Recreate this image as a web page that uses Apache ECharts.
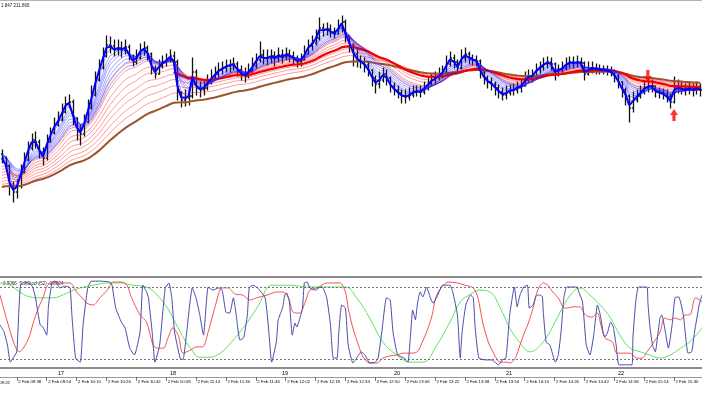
<!DOCTYPE html>
<html><head><meta charset="utf-8">
<script src="https://cdn.jsdelivr.net/npm/echarts@6/dist/echarts.min.js"></script>
<style>html,body{margin:0;padding:0;background:#fff;overflow:hidden}#c{width:702px;height:395px}</style>
</head><body><div id="c"></div>
<script>
// ---- price bars (2-minute bars from 09:30), prices ----
const closes = [210.42,210.34,210.14,210.08,210.14,210.28,210.40,210.52,210.60,210.58,
210.48,210.42,210.58,210.67,210.75,210.80,210.88,210.96,210.98,210.82,
210.70,210.66,210.78,210.92,211.05,211.20,211.32,211.44,211.55,211.54,
211.50,211.52,211.50,211.53,211.44,211.38,211.42,211.50,211.52,211.46,
211.32,211.26,211.34,211.38,211.40,211.44,211.38,211.08,211.00,211.02,
211.04,211.28,211.12,211.10,211.12,211.18,211.22,211.26,211.30,211.32,
211.34,211.35,211.36,211.30,211.26,211.24,211.28,211.34,211.40,211.45,
211.42,211.42,211.44,211.42,211.45,211.43,211.46,211.44,211.42,211.38,
211.40,211.46,211.54,211.57,211.62,211.72,211.70,211.71,211.68,211.66,
211.72,211.78,211.64,211.55,211.46,211.40,211.38,211.35,211.30,211.22,
211.16,211.20,211.26,211.22,211.14,211.10,211.07,211.04,211.03,211.05,
211.08,211.09,211.08,211.12,211.16,211.20,211.22,211.25,211.28,211.36,
211.42,211.38,211.32,211.42,211.46,211.42,211.40,211.39,211.28,211.22,
211.18,211.16,211.12,211.08,211.05,211.07,211.10,211.10,211.13,211.14,
211.20,211.24,211.24,211.30,211.33,211.36,211.38,211.36,211.26,211.30,
211.32,211.36,211.38,211.37,211.38,211.37,211.26,211.30,211.32,211.31,
211.30,211.30,211.29,211.28,211.24,211.18,211.10,211.04,210.92,211.00,
211.04,211.08,211.12,211.14,211.14,211.08,211.07,211.06,211.03,210.98,
211.12,211.13,211.11,211.10,211.12,211.10,211.12,211.10];
const highs = [210.50,210.43,210.35,210.18,210.20,210.35,210.47,210.58,210.66,210.68,
210.60,210.52,210.65,210.72,210.82,210.88,210.96,211.03,211.05,211.00,
210.82,210.75,210.85,211.00,211.14,211.28,211.40,211.52,211.64,211.63,
211.60,211.60,211.58,211.60,211.55,211.45,211.50,211.56,211.58,211.54,
211.47,211.34,211.40,211.44,211.46,211.50,211.48,211.40,211.08,211.10,
211.12,211.42,211.30,211.18,211.20,211.25,211.30,211.33,211.37,211.38,
211.40,211.40,211.42,211.38,211.34,211.32,211.36,211.42,211.46,211.58,
211.50,211.50,211.50,211.48,211.52,211.50,211.52,211.50,211.48,211.44,
211.46,211.54,211.60,211.64,211.70,211.82,211.76,211.77,211.75,211.72,
211.80,211.84,211.80,211.64,211.56,211.50,211.44,211.42,211.38,211.30,
211.24,211.28,211.32,211.30,211.23,211.17,211.14,211.10,211.10,211.12,
211.14,211.14,211.14,211.18,211.22,211.26,211.28,211.32,211.34,211.44,
211.48,211.45,211.40,211.50,211.52,211.48,211.45,211.44,211.40,211.28,
211.24,211.22,211.18,211.15,211.12,211.14,211.15,211.16,211.18,211.20,
211.28,211.30,211.30,211.36,211.38,211.42,211.43,211.42,211.37,211.35,
211.38,211.42,211.43,211.43,211.44,211.42,211.38,211.38,211.38,211.36,
211.35,211.34,211.34,211.33,211.30,211.26,211.18,211.12,211.05,211.08,
211.10,211.14,211.18,211.22,211.20,211.14,211.12,211.11,211.10,211.06,
211.23,211.20,211.18,211.16,211.18,211.16,211.18,211.16];
const lows = [210.37,210.30,210.05,209.98,210.02,210.12,210.27,210.39,210.50,210.52,
210.42,210.35,210.40,210.58,210.66,210.74,210.79,210.87,210.92,210.75,
210.60,210.55,210.64,210.77,210.91,211.04,211.19,211.31,211.43,211.47,
211.44,211.45,211.43,211.46,211.40,211.34,211.36,211.41,211.45,211.40,
211.26,211.22,211.26,211.32,211.34,211.38,211.30,211.00,210.93,210.94,
210.95,211.02,211.05,211.03,211.05,211.10,211.16,211.20,211.23,211.26,
211.28,211.28,211.30,211.24,211.20,211.18,211.22,211.28,211.32,211.38,
211.36,211.35,211.37,211.34,211.38,211.37,211.40,211.38,211.36,211.33,
211.34,211.40,211.46,211.50,211.55,211.60,211.64,211.65,211.63,211.62,
211.66,211.68,211.58,211.48,211.34,211.33,211.32,211.28,211.24,211.14,
211.07,211.12,211.18,211.15,211.08,211.05,211.02,210.97,210.97,211.00,
211.03,211.04,211.03,211.06,211.10,211.14,211.16,211.20,211.22,211.28,
211.34,211.32,211.27,211.31,211.38,211.36,211.35,211.34,211.22,211.16,
211.12,211.10,211.05,211.02,211.00,211.01,211.05,211.05,211.07,211.08,
211.14,211.18,211.18,211.24,211.27,211.30,211.32,211.30,211.20,211.24,
211.26,211.30,211.32,211.32,211.33,211.32,211.20,211.25,211.27,211.26,
211.26,211.26,211.25,211.24,211.18,211.12,211.03,210.95,210.78,210.88,
210.98,211.02,211.06,211.08,211.08,211.03,211.02,211.01,210.98,210.92,
210.97,211.07,211.06,211.05,211.06,211.04,211.06,211.04];
const firstOpen = 210.46; // each later bar opens at the previous close

// ---- moving-average ribbons (EMA periods in bars) and their values where they start ----
const fastBluePeriod = 1.5, fastBlueSeed = 210.42;
const blueFanPeriods = [2.5, 4, 5, 6, 7.5, 9, 10.5, 12.5];
const blueFanSeeds = [210.44, 210.45, 210.46, 210.47, 210.47, 210.47, 210.46, 210.45];
const redFanPeriods = [11, 14, 18, 22, 27, 32, 38, 45];
const redFanSeeds = [210.32, 210.29, 210.26, 210.23, 210.20, 210.17, 210.14, 210.12];
// the thick red average is only drawn over the most recent bars, starting at bar 46
const thickRedPeriod = 28, thickRedFirstBar = 46, thickRedStart = 211.28;
const brownPeriod = 56, brownSeed = 210.12;

// ---- signal arrows [bar index, price] ----
const sellArrows = [[173, 211.24]];
const buyArrows = [[180, 210.85]];

// ---- oscillator panel: [minutes after 09:30, value] ----
const oscMain = [[-1,-0.04],[1,-0.18],[3,-0.49],[4.5,-0.87],[6,-0.78],[8,-0.64],[9,0.18],[10,0.84],[12,0.91],[15,0.87],[16.5,0.8],[18,0.56],[20.5,-0.04],[22,-0.09],[24,-0.27],[25,0.4],[27,0.91],[29,0.93],[31,0.78],[34,0.82],[36.5,0.78],[37.5,0.18],[39.5,-0.78],[42,-0.87],[43.5,-0.04],[46,0.78],[48,0.93],[52.5,0.93],[58,0.91],[59,0.84],[61,0.33],[64,0.02],[66,-0.11],[68.5,-0.56],[71,-0.71],[74,-0.2],[75.5,0.84],[77.5,0.69],[78.5,0.56],[80.5,-0.2],[82,-0.87],[84.5,-0.49],[87.5,0.78],[89.5,0.89],[91,0.56],[92.5,-0.2],[95.5,-0.78],[97,-0.82],[99,-0.2],[102,0.78],[104,0.56],[106,0.18],[108,-0.27],[110.5,0.8],[113,0.73],[116,0.78],[118,0.73],[120,0.24],[122,0.22],[124,0.56],[125.5,0.18],[127.5,-0.38],[129.5,-0.33],[131.5,0.18],[132.5,0.78],[134.5,0.84],[137,0.78],[141,0.56],[143,-0.2],[144.5,-0.87],[147,-0.42],[148,0.07],[149.5,0.24],[150.5,0.36],[151.5,0.62],[152.5,0.67],[154,0.47],[155.5,-0.27],[157,0],[158,-0.09],[159,0.02],[161,0.33],[162,0.89],[163.5,0.91],[165,0.78],[168,0.73],[170.5,0.8],[172,0.78],[174,0.56],[176,-0.04],[177.5,-0.78],[179.5,-0.78],[180.5,-0.2],[182,0.4],[184,0.33],[185.5,-0.49],[188,-0.89],[190,-0.78],[192.5,-0.64],[194.5,-0.71],[197,-0.89],[200,-0.87],[201.5,-0.78],[203.5,-0.2],[206,0.56],[208,0.51],[209.5,-0.2],[212,-0.71],[215.5,-0.78],[217.5,-0.87],[219,-0.2],[220,0.29],[221.5,0.07],[222.5,0.4],[224,0.69],[225.5,0.58],[227.5,0.8],[229.5,0.56],[231,0.44],[233.5,0.62],[236,0.84],[240,0.84],[241.5,0.69],[244,0.18],[245.5,-0.78],[246.5,-0.2],[248.5,0.4],[251,0.62],[252.5,0.56],[253.5,-0.11],[255.5,-0.78],[259,-0.82],[262.5,-0.82],[266,-0.93],[268,-0.82],[270,-0.78],[272,0.18],[274.5,0.8],[276,0.36],[277.5,0.62],[279.5,0.8],[281.5,0.84],[282.5,0.33],[284.5,0.4],[286.5,0.62],[288.5,0.62],[289.5,0.58],[290,0.24],[291.5,-0.42],[293.5,-0.49],[296.5,-0.87],[298,-0.71],[299.5,-0.2],[301,0.56],[302.5,0.8],[305.5,0.8],[308,0.8],[309,0.69],[311,0.47],[313,-0.49],[315,-0.71],[317,-0.27],[319,0.4],[320.5,0.18],[322,-0.2],[323,-0.31],[324.5,-0.2],[326,0.02],[327.5,-0.09],[329,-0.49],[330.5,-0.93],[334,-0.93],[337.5,-0.93],[338,-0.33],[339.5,0.47],[341,0.8],[345.5,0.8],[346,0.47],[347,-0.04],[348.5,-0.49],[350,-0.64],[351.5,-0.2],[352.5,0.11],[353.5,0.18],[355,-0.11],[357,-0.56],[359,-0.04],[360.5,0.56],[362.5,0.58],[365,0.18],[367.5,-0.67],[369.5,-0.64],[371,-0.2],[373.5,0.4],[375,0.62]];
const oscSignal = [[-1,0.62],[1.5,0.24],[5.5,-0.33],[8,-0.6],[9.5,-0.64],[12.5,-0.49],[15,-0.27],[16.5,-0.04],[19.5,0.33],[22,0.56],[24.5,0.84],[27.5,0.89],[36.5,0.89],[38,0.84],[40,0.69],[43,0.56],[45.5,0.44],[49,0.4],[52.5,0.56],[56.5,0.73],[59.5,0.91],[64.5,0.91],[67,0.84],[69.5,0.56],[74,0.18],[77.5,0.02],[81,-0.49],[83.5,-0.56],[86.5,-0.56],[89,-0.33],[91.5,-0.11],[94.5,-0.27],[97,-0.67],[101,-0.6],[104.5,-0.53],[107.5,-0.53],[110.5,-0.2],[114,0.33],[118,0.78],[121,0.78],[125,0.64],[129,0.62],[133,0.51],[136.5,0.56],[142,0.62],[147.5,0.69],[150.5,0.69],[153.5,0.56],[156,0.24],[159.5,0.22],[162.5,0.47],[165,0.73],[169,0.78],[174,0.89],[181,0.89],[184,0.69],[185.5,0.33],[188,-0.11],[191,-0.49],[193.5,-0.76],[197,-0.89],[201,-0.89],[204,-0.78],[208,-0.73],[211.5,-0.71],[215,-0.67],[218.5,-0.67],[222.5,-0.64],[225,-0.44],[227.5,-0.2],[230.5,0.18],[232,0.51],[233.5,0.67],[236.5,0.84],[239,0.91],[244,0.89],[248,0.84],[252.5,0.78],[255,0.56],[257.5,0.02],[260.5,-0.42],[263,-0.64],[267,-0.87],[270.5,-0.87],[272,-0.89],[275,-0.78],[277.5,-0.49],[280,-0.2],[282,0],[284.5,0.33],[287,0.73],[290,0.89],[292.5,0.84],[295,0.69],[298,0.56],[300.5,0.36],[302.5,0.33],[306,0.36],[309.5,0.36],[312.5,0.18],[316,0.13],[319,0.22],[320.5,0.02],[323,-0.33],[327,-0.42],[329.5,-0.67],[336.5,-0.67],[340,-0.78],[343,-0.78],[345.5,-0.64],[349,-0.44],[352.5,-0.2],[355,0.11],[358,0.07],[360.5,0.11],[363.5,0.07],[366,0.18],[368.5,0.18],[371.5,0.56],[375,0.47]];
const oscSlow = [[-1,0.89],[4.5,0.84],[9.5,0.69],[15,0.58],[20.5,0.56],[27.5,0.56],[35,0.67],[42,0.78],[49,0.84],[56.5,0.89],[63.5,0.89],[70,0.84],[77.5,0.8],[84.5,0.56],[90,0.24],[95.5,-0.2],[101,-0.56],[106,-0.76],[111.5,-0.76],[117,-0.67],[122,-0.47],[127.5,-0.2],[133,0.11],[138.5,0.47],[142,0.78],[145,0.84],[154.5,0.84],[163.5,0.8],[174,0.8],[184,0.8],[190,0.56],[197,0.11],[204,-0.42],[211.5,-0.71],[218.5,-0.87],[225.5,-0.87],[233,-0.49],[240,0.02],[245.5,0.47],[251,0.64],[256,0.73],[261.5,0.69],[267,0.33],[272,-0.11],[277.5,-0.44],[283,-0.64],[288.5,-0.49],[293.5,-0.2],[299,0.24],[304.5,0.62],[309.5,0.78],[315,0.62],[320.5,0.4],[326,0.11],[331,-0.27],[336.5,-0.56],[342,-0.64],[347,-0.71],[352.5,-0.78],[358,-0.71],[363.5,-0.56],[368.5,-0.42],[375,-0.11]];
const oscLevels = [0.8, -0.8];

// ---- tick labels ----
const hourMarks = {'10:00':'17','11:00':'18','12:00':'19','13:00':'20','14:00':'21','15:00':'22'};
const timeTicks = ['09:38','09:54','10:10','10:26','10:42','10:58','11:14','11:30','11:46','12:02','12:18','12:34','12:50','13:06','13:22','13:38','13:54','14:10','14:26','14:42','14:58','15:14','15:30'];
const datePrefix = '2 Feb ';
const priceText = '1.847 211.866';
const oscText = '0.9066  SoftStoch(52) -0.8904';

// ---- build ----
const firstBarMinute = 9 * 60 + 30, barStep = 2;
const barTimes = closes.map((_, i) => {
  const m = firstBarMinute + i * barStep;
  return String(Math.floor(m / 60)).padStart(2, '0') + ':' + String(m % 60).padStart(2, '0');
});
const ohlc = closes.map((c, i) => [i, i ? closes[i - 1] : firstOpen, highs[i], lows[i], c]);
function ema(src, period, seed) {
  const a = 2 / (period + 1); let e = seed;
  return src.map(v => { e = e + a * (v - e); return +e.toFixed(4); });
}
function emaFrom(src, period, first, startValue) {
  const a = 2 / (period + 1); let e = startValue;
  return src.map((v, i) => {
    if (i < first) return null;
    if (i > first) e = e + a * (v - e);
    return +e.toFixed(4);
  });
}
const FONT = 'Liberation Sans';
const series = [];
series.push({
  type: 'custom', xAxisIndex: 0, yAxisIndex: 0, z: 2, clip: true,
  encode: { x: 0, y: [1, 2, 3, 4] }, data: ohlc,
  renderItem(params, api) {
    const i = api.value(0);
    const pO = api.coord([i, api.value(1)]), pH = api.coord([i, api.value(2)]);
    const pL = api.coord([i, api.value(3)]), pC = api.coord([i, api.value(4)]);
    const x = Math.round(pH[0]) + 0.5;
    const st = { stroke: '#111', lineWidth: 1.3 };
    return { type: 'group', children: [
      { type: 'line', shape: { x1: x, y1: pH[1] - 0.5, x2: x, y2: pL[1] + 0.5 }, style: st },
      { type: 'line', shape: { x1: x - 1.6, y1: pO[1], x2: x, y2: pO[1] }, style: st },
      { type: 'line', shape: { x1: x, y1: pC[1], x2: x + 1.6, y2: pC[1] }, style: st }
    ] };
  }
});
redFanPeriods.forEach((p, k) => series.push({
  type: 'line', xAxisIndex: 0, yAxisIndex: 0, z: 3, symbol: 'none', silent: true,
  data: ema(closes, p, redFanSeeds[k]),
  lineStyle: { color: '#ff2020', width: 0.6, opacity: 0.75 }
}));
series.push({ type: 'line', xAxisIndex: 0, yAxisIndex: 0, z: 4, symbol: 'none', silent: true,
  data: ema(closes, brownPeriod, brownSeed), lineStyle: { color: '#a0522d', width: 2 } });
series.push({ type: 'line', xAxisIndex: 0, yAxisIndex: 0, z: 4, symbol: 'none', silent: true, connectNulls: false,
  data: emaFrom(closes, thickRedPeriod, thickRedFirstBar, thickRedStart),
  lineStyle: { color: '#f00000', width: 2.2 } });
blueFanPeriods.forEach((p, k) => series.push({
  type: 'line', xAxisIndex: 0, yAxisIndex: 0, z: 5, symbol: 'none', silent: true,
  data: ema(closes, p, blueFanSeeds[k]),
  lineStyle: { color: '#2020ff', width: 0.6, opacity: 0.7 }
}));
series.push({ type: 'line', xAxisIndex: 0, yAxisIndex: 0, z: 6, symbol: 'none', silent: true,
  data: ema(closes, fastBluePeriod, fastBlueSeed), lineStyle: { color: '#0000ff', width: 2 } });
series.push({ type: 'scatter', xAxisIndex: 0, yAxisIndex: 0, z: 8, data: sellArrows,
  symbol: 'path://M3,0 L7,0 L7,6 L10,6 L5,12 L0,6 L3,6 Z', symbolSize: [8, 12],
  itemStyle: { color: '#ff0000' } });
series.push({ type: 'scatter', xAxisIndex: 0, yAxisIndex: 0, z: 8, data: buyArrows,
  symbol: 'path://M5,0 L10,6 L7,6 L7,12 L3,12 L3,6 L0,6 Z', symbolSize: [8, 12],
  itemStyle: { color: '#ff0000' } });
series.push({ type: 'line', xAxisIndex: 4, yAxisIndex: 1, z: 3, symbol: 'none', smooth: 0.4, silent: true,
  data: oscSlow, lineStyle: { color: '#5fe35f', width: 1 },
  markLine: { silent: true, symbol: 'none', label: { show: false },
    lineStyle: { color: '#777', type: [2, 2], width: 1 },
    data: oscLevels.map(v => ({ yAxis: v })) } });
series.push({ type: 'line', xAxisIndex: 4, yAxisIndex: 1, z: 4, symbol: 'none', smooth: 0.3, silent: true,
  data: oscSignal, lineStyle: { color: '#f25252', width: 1 } });
series.push({ type: 'line', xAxisIndex: 4, yAxisIndex: 1, z: 5, symbol: 'none', smooth: 0.15, silent: true,
  data: oscMain, lineStyle: { color: '#4b4bab', width: 1 } });

const chart = echarts.init(document.getElementById('c'), null, { renderer: 'canvas' });
chart.setOption({
  animation: false,
  backgroundColor: '#ffffff',
  grid: [
    { left: 0, right: 0, top: 0, height: 277 },
    { left: 0, right: 0, top: 278, height: 90 }
  ],
  xAxis: [
    { type: 'category', gridIndex: 0, data: barTimes, boundaryGap: true, position: 'bottom',
      axisLine: { show: true, onZero: false, lineStyle: { color: '#8c8c8c', width: 2 } },
      axisTick: { show: false }, axisLabel: { show: false }, splitLine: { show: false } },
    { type: 'category', gridIndex: 0, data: barTimes, boundaryGap: true, position: 'top',
      axisLine: { show: true, onZero: false, lineStyle: { color: '#b4b4b4', width: 2 } },
      axisTick: { show: false }, axisLabel: { show: false } },
    { type: 'category', gridIndex: 1, data: barTimes, boundaryGap: true, position: 'bottom',
      axisLine: { show: true, onZero: false, lineStyle: { color: '#8c8c8c', width: 2 } },
      axisTick: { show: false },
      axisLabel: { show: true, interval: (idx, val) => val in hourMarks, formatter: v => hourMarks[v] || '',
        align: 'left', margin: 2, fontSize: 5.5, color: '#000', fontFamily: FONT } },
    { type: 'category', gridIndex: 1, data: barTimes, boundaryGap: true, position: 'bottom', offset: 9,
      axisLine: { show: true, onZero: false, lineStyle: { color: '#9a9a9a', width: 1 } },
      axisTick: { show: true, alignWithLabel: true, interval: (idx, val) => timeTicks.includes(val), length: 4,
        lineStyle: { color: '#555', width: 0.8 } },
      axisLabel: { show: true, interval: (idx, val) => timeTicks.includes(val), formatter: v => datePrefix + v,
        align: 'left', margin: 3, fontSize: 4.3, color: '#000', fontFamily: FONT, padding: [0, 0, 0, 1.5] } },
    { type: 'value', gridIndex: 1, min: -1, max: 375, show: false }
  ],
  yAxis: [
    { type: 'value', gridIndex: 0, min: 209.23, max: 212.00, show: false, splitLine: { show: false } },
    { type: 'value', gridIndex: 1, min: -1, max: 1, show: false, splitLine: { show: false } }
  ],
  graphic: [
    { type: 'text', left: 1, top: 3, style: { text: priceText, fontSize: 4.5, fill: '#222', fontFamily: FONT } },
    { type: 'text', left: 3, top: 281, style: { text: oscText, fontSize: 4.5, fill: '#222', fontFamily: FONT } },
    { type: 'text', x: -13, y: 380.5, style: { text: datePrefix + '09:22', fontSize: 4.3, fill: '#000', fontFamily: FONT } }
  ],
  series
});
</script></body></html>
